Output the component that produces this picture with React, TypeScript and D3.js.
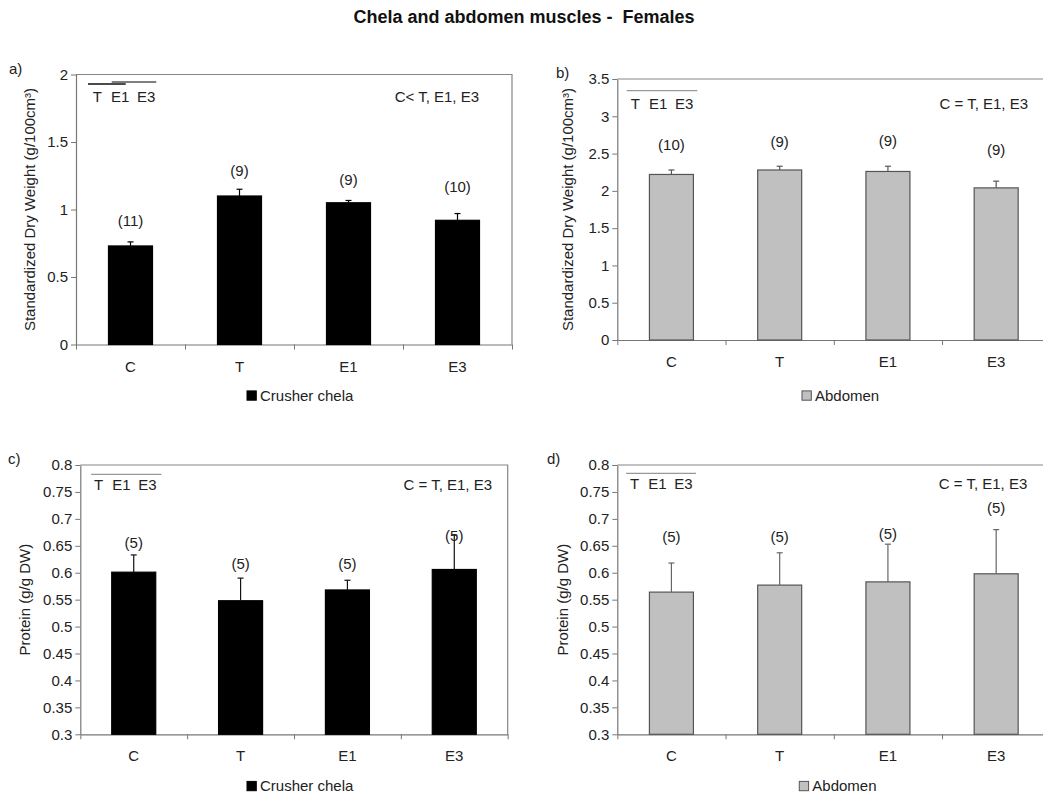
import React, { useEffect, useRef } from 'react';
import * as d3 from 'd3';

const categories = ['C', 'T', 'E1', 'E3'];

// a) crusher chela, standardized dry weight
const chelaDryMean = [0.73, 1.1, 1.05, 0.92];
const chelaDrySE = [0.03, 0.05, 0.017, 0.05];
const chelaDryN = [11, 9, 9, 10];
const chelaDryLabelAt = [0.92, 1.29, 1.22, 1.167];

// b) abdomen, standardized dry weight
const abdDryMean = [2.22, 2.28, 2.26, 2.04];
const abdDrySE = [0.06, 0.05, 0.07, 0.09];
const abdDryN = [10, 9, 9, 9];
const abdDryLabelAt = [2.615, 2.66, 2.67, 2.557];

// c) crusher chela, protein
const chelaProtMean = [0.601, 0.548, 0.568, 0.606];
const chelaProtSE = [0.032, 0.042, 0.018, 0.064];
const chelaProtN = [5, 5, 5, 5];
const chelaProtLabelAt = [0.656, 0.616, 0.616, 0.668];

// d) abdomen, protein
const abdProtMean = [0.564, 0.577, 0.583, 0.598];
const abdProtSE = [0.054, 0.06, 0.07, 0.082];
const abdProtN = [5, 5, 5, 5];
const abdProtLabelAt = [0.667, 0.667, 0.673, 0.721];

const dryTicks = [0, 0.5, 1, 1.5, 2];
const dryTicksB = [0, 0.5, 1, 1.5, 2, 2.5, 3, 3.5];
const protTicks = [0.3, 0.35, 0.4, 0.45, 0.5, 0.55, 0.6, 0.65, 0.7, 0.75, 0.8];

const FONT = '"Liberation Sans", Arial, sans-serif';

function drawPanel(svg, p) {
  const g = svg.append('g');
  const { left, top, width, height } = p.box;
  const x = d3.scaleBand().domain(categories).range([left, left + width]);
  const xb = d3.scaleLinear().domain([0, categories.length]).range([left, left + width]);
  const y = d3.scaleLinear().domain(p.domain).range([top + height, top]);
  const bw = 44;

  // frame (top + right)
  g.append('path')
    .attr('d', `M${left},${top}H${left + width}V${top + height}`)
    .attr('fill', 'none')
    .attr('stroke', '#858585')
    .attr('stroke-width', 1.2);

  const yAxis = g.append('g')
    .attr('transform', `translate(${left},0)`)
    .call(d3.axisLeft(y).tickValues(p.ticks).tickSize(5).tickSizeOuter(0).tickPadding(3)
      .tickFormat(d3.format(p.fmt)));
  yAxis.select('.domain').attr('stroke', '#777').attr('stroke-width', 1.2);
  yAxis.selectAll('line').attr('stroke', '#777');
  yAxis.selectAll('text').attr('font-size', 15).attr('font-family', FONT).attr('fill', '#222');

  const xAxis = g.append('g')
    .attr('transform', `translate(0,${top + height})`)
    .call(d3.axisBottom(xb).tickValues(d3.range(categories.length + 1)).tickSize(5).tickSizeOuter(0)
      .tickFormat(() => ''));
  xAxis.select('.domain').attr('stroke', '#777').attr('stroke-width', 1.2);
  xAxis.selectAll('line').attr('stroke', '#777');

  g.selectAll('.cat')
    .data(categories)
    .join('text')
    .attr('x', d => x(d) + x.bandwidth() / 2)
    .attr('y', top + height + 27)
    .attr('text-anchor', 'middle')
    .attr('font-size', 15)
    .attr('font-family', FONT)
    .attr('fill', '#222')
    .text(d => d);

  // bars
  g.selectAll('.bar')
    .data(p.mean)
    .join('rect')
    .attr('x', (_, i) => x(categories[i]) + (x.bandwidth() - bw) / 2)
    .attr('y', d => y(d))
    .attr('width', bw)
    .attr('height', d => y(p.domain[0]) - y(d))
    .attr('fill', p.fill)
    .attr('stroke', p.stroke)
    .attr('stroke-width', 1.2);

  // error bars (upper only)
  p.mean.forEach((m, i) => {
    const cx = x(categories[i]) + x.bandwidth() / 2;
    g.append('line')
      .attr('x1', cx).attr('x2', cx)
      .attr('y1', y(m)).attr('y2', y(m + p.se[i]))
      .attr('stroke', p.errColor).attr('stroke-width', 1.2);
    g.append('line')
      .attr('x1', cx - 3).attr('x2', cx + 3)
      .attr('y1', y(m + p.se[i])).attr('y2', y(m + p.se[i]))
      .attr('stroke', p.errColor).attr('stroke-width', 1.2);
  });

  // sample sizes
  g.selectAll('.n')
    .data(p.n)
    .join('text')
    .attr('x', (_, i) => x(categories[i]) + x.bandwidth() / 2)
    .attr('y', (_, i) => y(p.labelAt[i]))
    .attr('dy', '0.35em')
    .attr('text-anchor', 'middle')
    .attr('font-size', 15)
    .attr('font-family', FONT)
    .attr('fill', '#222')
    .text(d => `(${d})`);

  // y label
  g.append('text')
    .attr('transform', `translate(${p.yLabelX},${top + height / 2}) rotate(-90)`)
    .attr('text-anchor', 'middle')
    .attr('dy', '0.35em')
    .attr('font-size', 15)
    .attr('font-family', FONT)
    .attr('fill', '#222')
    .text(p.yLabel);

  // panel letter
  g.append('text')
    .attr('x', p.letterX).attr('y', top - 1)
    .attr('font-size', 15).attr('font-family', FONT).attr('fill', '#222')
    .text(p.letter);

  // homogeneous groups annotation
  const sx = left + p.sigDx;
  const sy = top + p.sigDy;
  [['T', 0], ['E1', 18.3], ['E3', 44.3]].forEach(([t, dx]) => {
    g.append('text')
      .attr('x', sx + dx).attr('y', sy).attr('dy', '0.35em')
      .attr('font-size', 15).attr('font-family', FONT).attr('fill', '#222')
      .text(t);
  });
  p.sigLines.forEach(([a, b, dy, c]) => {
    g.append('line')
      .attr('x1', sx + a).attr('x2', sx + b)
      .attr('y1', sy + dy).attr('y2', sy + dy)
      .attr('stroke', c).attr('stroke-width', 1.3);
  });

  g.append('text')
    .attr('x', left + p.testDx).attr('y', sy).attr('dy', '0.35em')
    .attr('text-anchor', 'end')
    .attr('font-size', 15).attr('font-family', FONT).attr('fill', '#222')
    .text(p.test);

  // legend
  g.append('rect')
    .attr('x', p.legendX).attr('y', p.legendY - 4.6)
    .attr('width', 9.3).attr('height', 9.3)
    .attr('fill', p.fill).attr('stroke', p.stroke).attr('stroke-width', 1);
  g.append('text')
    .attr('x', p.legendX + 13).attr('y', p.legendY).attr('dy', '0.35em')
    .attr('font-size', 15).attr('font-family', FONT).attr('fill', '#222')
    .text(p.legend);
}

export default function App() {
  const svgRef = useRef(null);

  useEffect(() => {
    const svg = d3.select(svgRef.current);
    svg.selectAll('*').remove();

    svg.append('text')
      .attr('x', 524).attr('y', 23)
      .attr('text-anchor', 'middle')
      .attr('font-size', 18).attr('font-weight', 'bold').attr('font-family', FONT)
      .attr('fill', '#111')
      .attr('xml:space', 'preserve')
      .text('Chela and abdomen muscles -  Females');

    const dryLabel = 'Standardized Dry Weight (g/100cm³)';
    const protLabel = 'Protein (g/g DW)';

    drawPanel(svg, {
      box: { left: 76, top: 74.5, width: 436, height: 270 },
      domain: [0, 2], ticks: dryTicks, fmt: '.1~f',
      mean: chelaDryMean, se: chelaDrySE, n: chelaDryN, labelAt: chelaDryLabelAt,
      fill: '#000', stroke: '#000', errColor: '#000',
      yLabel: dryLabel, yLabelX: 30, letter: 'a)', letterX: 9,
      sigDx: 16.7, sigDy: 22,
      sigLines: [[-4.7, 33, -12.5, '#111'], [19, 63.5, -14.5, '#555']],
      test: 'C< T, E1, E3', testDx: 403,
      legend: 'Crusher chela', legendX: 247, legendY: 395.5,
    });

    drawPanel(svg, {
      box: { left: 617.3, top: 79, width: 433, height: 261 },
      domain: [0, 3.5], ticks: dryTicksB, fmt: '.1~f',
      mean: abdDryMean, se: abdDrySE, n: abdDryN, labelAt: abdDryLabelAt,
      fill: '#c0c0c0', stroke: '#555', errColor: '#555',
      yLabel: dryLabel, yLabelX: 568, letter: 'b)', letterX: 556,
      sigDx: 13.4, sigDy: 24.3,
      sigLines: [[-4, 66.6, -12.6, '#999']],
      test: 'C = T, E1, E3', testDx: 410.7,
      legend: 'Abdomen', legendX: 802, legendY: 395.5,
    });

    drawPanel(svg, {
      box: { left: 80.3, top: 465, width: 427.4, height: 269.3 },
      domain: [0.3, 0.8], ticks: protTicks, fmt: '.2~f',
      mean: chelaProtMean, se: chelaProtSE, n: chelaProtN, labelAt: chelaProtLabelAt,
      fill: '#000', stroke: '#000', errColor: '#111',
      yLabel: protLabel, yLabelX: 25, letter: 'c)', letterX: 8,
      sigDx: 13.7, sigDy: 19.3,
      sigLines: [[-3, 67.4, -10, '#999']],
      test: 'C = T, E1, E3', testDx: 411.7,
      legend: 'Crusher chela', legendX: 247, legendY: 786,
    });

    drawPanel(svg, {
      box: { left: 617.3, top: 465, width: 433, height: 269.3 },
      domain: [0.3, 0.8], ticks: protTicks, fmt: '.2~f',
      mean: abdProtMean, se: abdProtSE, n: abdProtN, labelAt: abdProtLabelAt,
      fill: '#c0c0c0', stroke: '#555', errColor: '#666',
      yLabel: protLabel, yLabelX: 562.7, letter: 'd)', letterX: 547,
      sigDx: 12.7, sigDy: 19,
      sigLines: [[-4, 66, -10.7, '#999']],
      test: 'C = T, E1, E3', testDx: 410,
      legend: 'Abdomen', legendX: 799.3, legendY: 786,
    });
  }, []);

  return (
    <svg
      ref={svgRef}
      width={1043}
      height={794}
      style={{ position: 'absolute', left: 0, top: 0, background: '#fff' }}
    />
  );
}
